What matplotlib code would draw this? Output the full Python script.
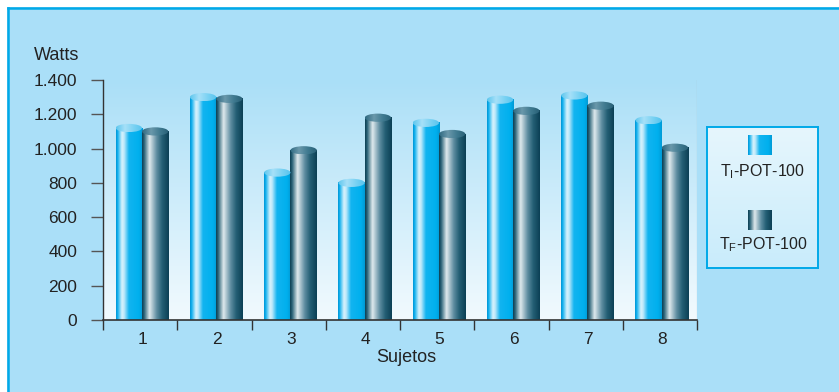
import numpy as np
import matplotlib
matplotlib.use("Agg")
import matplotlib.pyplot as plt
from matplotlib.colors import LinearSegmentedColormap
from matplotlib.patches import Ellipse, Rectangle
from matplotlib.lines import Line2D

plt.rcParams['font.family'] = ['Liberation Sans', 'DejaVu Sans']
plt.rcParams['mathtext.fontset'] = 'custom'
plt.rcParams['mathtext.rm'] = 'Liberation Sans'

categories = ['1', '2', '3', '4', '5', '6', '7', '8']
ti_pot = [1120, 1300, 860, 800, 1150, 1285, 1310, 1165]
tf_pot = [1100, 1290, 990, 1180, 1085, 1220, 1250, 1005]
yticks = [0, 200, 400, 600, 800, 1000, 1200, 1400]
ytick_labels = ['0', '200', '400', '600', '800', '1.000', '1.200', '1.400']
series_names = ['T$_\\mathregular{I}$-POT-100', 'T$_\\mathregular{F}$-POT-100']

W, H = 839, 392
fig = plt.figure(figsize=(W / 100, H / 100), dpi=100)
fig.patch.set_facecolor('white')

bg = '#aadff8'
edge_blue = '#00a9e8'
fig.patches.append(Rectangle((7 / W, 0), 1, 1 - 7 / H, transform=fig.transFigure,
                             facecolor=bg, edgecolor='none', zorder=-5))
fig.lines.append(Line2D([7.5 / W, 7.5 / W], [0, 1 - 7.5 / H], transform=fig.transFigure,
                        color=edge_blue, lw=1.8, zorder=1))
fig.lines.append(Line2D([7.5 / W, 1], [1 - 7.5 / H, 1 - 7.5 / H], transform=fig.transFigure,
                        color=edge_blue, lw=1.8, zorder=1))

ax = fig.add_axes([103 / W, 1 - 320 / H, (697 - 103) / W, (320 - 80) / H])
ax.set_facecolor('none')

# background gradient of the plotting area
bg_cmap = LinearSegmentedColormap.from_list('bgc', ['#f2fafe', '#aadff7'])
ax.imshow(np.linspace(0, 1, 256).reshape(-1, 1), origin='lower', cmap=bg_cmap,
          extent=[0, 1, 0, 1], transform=ax.transAxes, aspect='auto', zorder=0)

light_cmap = LinearSegmentedColormap.from_list('lc', [
    (0.0, '#0094d4'), (0.06, '#10b0ee'), (0.22, '#d8f2fc'), (0.30, '#bfe9fa'),
    (0.48, '#12b4f0'), (0.85, '#00b0ee'), (1.0, '#009ad6')])
dark_cmap = LinearSegmentedColormap.from_list('dc', [
    (0.0, '#0b3e52'), (0.08, '#2a6378'), (0.28, '#dfe9ed'), (0.36, '#b8cdd6'),
    (0.55, '#5d8ca0'), (0.75, '#245f75'), (1.0, '#0b3f54')])
light_top = LinearSegmentedColormap.from_list('lt', ['#5cc6ee', '#a6e0f8', '#7ad2f3', '#55c3ee'])
dark_top = LinearSegmentedColormap.from_list('dt', ['#2d6880', '#6a98ab', '#3f7a90', '#285f76'])

grad = np.linspace(0, 1, 256).reshape(1, -1)
bw = 0.355
eh = 48
x = np.arange(1, len(categories) + 1)


def cylinder(x0, h, body_cmap, top_cmap):
    ax.imshow(grad, cmap=body_cmap, extent=[x0, x0 + bw, 0, h], aspect='auto',
              zorder=2, interpolation='bilinear')
    ell = Ellipse((x0 + bw / 2, h), bw, eh, facecolor='none', edgecolor='none')
    ax.add_patch(ell)
    im = ax.imshow(grad, cmap=top_cmap, extent=[x0, x0 + bw, h - eh / 2, h + eh / 2],
                   aspect='auto', zorder=3, interpolation='bilinear')
    im.set_clip_path(ell)


for xi, a, b in zip(x, ti_pot, tf_pot):
    cylinder(xi - 0.33, a, light_cmap, light_top)
    cylinder(xi - 0.33 + bw, b, dark_cmap, dark_top)

ax.set_xlim(0.5, 8.5)
ax.set_ylim(0, 1400)

for s in ['top', 'right']:
    ax.spines[s].set_visible(False)
ax.spines['left'].set_color('#333333')
ax.spines['bottom'].set_color('#333333')
ax.spines['left'].set_linewidth(1.0)
ax.spines['bottom'].set_linewidth(1.2)
ax.axvline(8.5, color='#9aa6ad', lw=0.8, zorder=1)

ax.set_yticks(yticks)
ax.set_yticklabels(ytick_labels, fontsize=12.5, color='#222222')
ax.tick_params(axis='y', direction='out', length=8.5, width=1.0, color='#555555', pad=10)

ax.set_xticks(x + 0.03)
ax.set_xticklabels(categories, fontsize=12.5, color='#222222')
ax.set_xticks(np.arange(0.5, 9.0, 1.0), minor=True)
ax.tick_params(axis='x', which='major', length=0, pad=9)
ax.tick_params(axis='x', which='minor', direction='out', length=7, width=1.0, color='#333333')

fig.text(57 / W, 1 - 55 / H, 'Watts', fontsize=13, color='#222222', ha='center', va='center')
fig.text(406 / W, 1 - 357 / H, 'Sujetos', fontsize=13, color='#222222', ha='center', va='center')

# legend box
lx0, lx1, ly0, ly1 = 707, 818, 127, 268
lax = fig.add_axes([lx0 / W, 1 - ly1 / H, (lx1 - lx0) / W, (ly1 - ly0) / H])
lax.set_xticks([])
lax.set_yticks([])
for s in lax.spines.values():
    s.set_color(edge_blue)
    s.set_linewidth(1.4)
leg_cmap = LinearSegmentedColormap.from_list('lg', ['#e6f6fd', '#c9ecfb'])
lax.imshow(np.linspace(0, 1, 128).reshape(-1, 1), cmap=leg_cmap,
           extent=[lx0, lx1, ly1, ly0], aspect='auto', zorder=0)
lax.imshow(grad, cmap=light_cmap, extent=[748, 772, 155, 135], aspect='auto', zorder=1,
           interpolation='bilinear')
lax.imshow(grad, cmap=dark_cmap, extent=[748, 772, 230, 210], aspect='auto', zorder=1,
           interpolation='bilinear')
lax.set_xlim(lx0, lx1)
lax.set_ylim(ly1, ly0)
lax.text(763, 172, series_names[0], fontsize=11.5, color='#222222', ha='center', va='center')
lax.text(763, 245, series_names[1], fontsize=11.5, color='#222222', ha='center', va='center')

fig.savefig('out.png', dpi=100, facecolor=fig.get_facecolor())
